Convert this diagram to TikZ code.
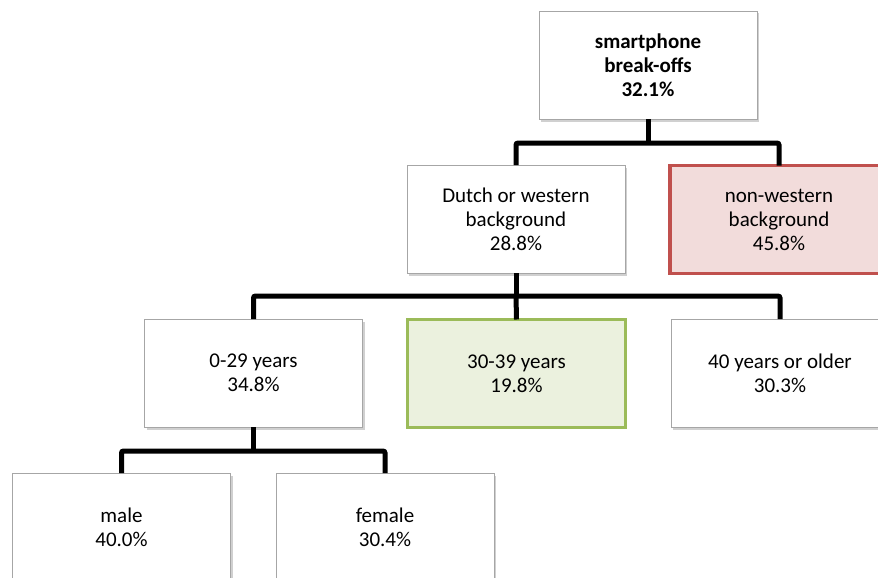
\documentclass[tikz,border=0pt]{standalone}
\usepackage{fontspec}
\setmainfont{Carlito}
\usetikzlibrary{shadows}
\definecolor{boxgray}{HTML}{A6A6A6}
\definecolor{redline}{HTML}{C0504D}
\definecolor{redfill}{HTML}{F2DCDB}
\definecolor{greenline}{HTML}{9BBB59}
\definecolor{greenfill}{HTML}{EBF1DE}
\begin{document}
\begin{tikzpicture}[x=1pt,y=-1pt,
  box/.style={draw=boxgray, line width=0.8pt, fill=white, minimum width=218pt, minimum height=108pt,
    align=center, font=\fontsize{21}{24}\selectfont, inner sep=0pt, outer sep=0pt},
  shadowed/.style={drop shadow={shadow xshift=2pt, shadow yshift=-2.5pt, opacity=0.3, fill=black!60}},
  rootbox/.style={box, shadowed, font=\fontsize{21}{24}\selectfont\bfseries},
  redbox/.style={box, draw=redline, fill=redfill, line width=3.5pt},
  greenbox/.style={box, draw=greenline, fill=greenfill, line width=3.5pt},
  conn/.style={line width=5pt, rounded corners=2pt}]
\clip (0,0) rectangle (878,578);
\fill[white] (0,0) rectangle (878,578);

\node[rootbox] (root) at (648,65) {smartphone\\break-offs\\32.1\%};
\node[box, shadowed] (dutch) at (516,219) {Dutch or western\\background\\28.8\%};
\node[redbox] (nonw) at (779,219.5) {non-western\\background\\45.8\%};
\node[box, shadowed] (y029) at (253.5,373) {0-29 years\\34.8\%};
\node[greenbox] (y3039) at (516.5,373.5) {30-39 years\\19.8\%};
\node[box, shadowed] (y40) at (780,373) {40 years or older\\30.3\%};
\node[box, shadowed] (male) at (121.5,527) {male\\40.0\%};
\node[box, shadowed] (female) at (385,527) {female\\30.4\%};

\draw[conn] (root.south) -- ++(0,24) coordinate (j1);
\draw[conn] (dutch.north) |- (j1) -| (nonw.north);

\draw[conn] (dutch.south) -- ++(0,23) coordinate (j2);
\draw[conn] (y029.north) |- (j2) -| (y40.north);
\draw[conn] (j2) -- (y3039.north);

\draw[conn] (y029.south) -- ++(0,24) coordinate (j3);
\draw[conn] (male.north) |- (j3) -| (female.north);
\end{tikzpicture}
\end{document}
